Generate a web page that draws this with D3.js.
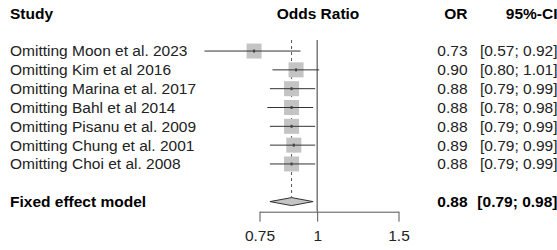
<!DOCTYPE html>
<html>
<head>
<meta charset="utf-8">
<script src="https://cdn.jsdelivr.net/npm/d3@7"></script>
<style>
  html, body { margin: 0; padding: 0; background: #fff; }
  svg { display: block; }
  text { font-family: "Liberation Sans", Arial, Helvetica, sans-serif; }
</style>
</head>
<body>
<script>
// ---- data ----
const studies = [
  "Omitting Moon et al. 2023",
  "Omitting Kim et al 2016",
  "Omitting Marina et al. 2017",
  "Omitting Bahl et al 2014",
  "Omitting Pisanu et al. 2009",
  "Omitting Chung et al. 2001",
  "Omitting Choi et al. 2008"
];
const orValues = [0.73, 0.90, 0.88, 0.88, 0.88, 0.89, 0.88];
const ciLower  = [0.57, 0.80, 0.79, 0.78, 0.79, 0.79, 0.79];
const ciUpper  = [0.92, 1.01, 0.99, 0.98, 0.99, 0.99, 0.99];
const pooledLabel = "Fixed effect model";
const pooled = { or: 0.88, lo: 0.79, hi: 0.98 };
const tickValues = [0.75, 1, 1.5];
const tickLabels = ["0.75", "1", "1.5"];
const headers = { study: "Study", plot: "Odds Ratio", or: "OR", ci: "95%-CI" };

// ---- layout ----
const W = 557, H = 250;
const fs = 15.5;
const svg = d3.select("body").append("svg").attr("width", W).attr("height", H);

const x = d3.scaleLog().domain([0.75, 1.5]).range([259.5, 398.5]);
const rowY = d3.scaleLinear().domain([0, 10]).range([13.4, 201.6]);

const fmt = d3.format(".2f");
const fmtCI = (l, h) => `[${fmt(l)}; ${fmt(h)}]`;

const studyRows = studies.map((s, i) => ({
  label: s, or: orValues[i], lo: ciLower[i], hi: ciUpper[i], row: i + 2
}));

const txt = (sel) => sel.attr("font-size", fs).attr("dy", "0.35em");

// headers
const hdrY = rowY(0);
svg.append("text").call(txt).attr("x", 10).attr("y", hdrY).attr("font-weight", "bold").attr("fill", "#000").text(headers.study);
svg.append("text").call(txt).attr("x", 318).attr("y", hdrY).attr("text-anchor", "middle").attr("font-weight", "bold").attr("fill", "#000").text(headers.plot);
svg.append("text").call(txt).attr("x", 467.5).attr("y", hdrY).attr("text-anchor", "end").attr("font-weight", "bold").attr("fill", "#000").text(headers.or);
svg.append("text").call(txt).attr("x", 557.5).attr("y", hdrY).attr("text-anchor", "end").attr("font-weight", "bold").attr("fill", "#000").text(headers.ci);

// reference line at 1
const topY = rowY(2) - 11;
const axisY = 211.7;
svg.append("line")
  .attr("x1", x(1)).attr("x2", x(1)).attr("y1", topY).attr("y2", axisY)
  .attr("stroke", "#666").attr("stroke-width", 1.3);

// dashed pooled line
svg.append("line")
  .attr("x1", x(pooled.or)).attr("x2", x(pooled.or))
  .attr("y1", topY).attr("y2", rowY(10) - 4)
  .attr("stroke", "#555").attr("stroke-width", 1)
  .attr("stroke-dasharray", "3,3");

// study rows
const g = svg.append("g");
const rows = g.selectAll("g.row").data(studyRows).join("g").attr("class", "row");

rows.append("text").call(txt)
  .attr("x", 10).attr("y", d => rowY(d.row)).attr("fill", "#222")
  .text(d => d.label);

rows.append("text").call(txt)
  .attr("x", 467.5).attr("y", d => rowY(d.row)).attr("text-anchor", "end").attr("fill", "#222")
  .text(d => fmt(d.or));

rows.append("text").call(txt)
  .attr("x", 557.5).attr("y", d => rowY(d.row)).attr("text-anchor", "end").attr("fill", "#222")
  .text(d => fmtCI(d.lo, d.hi));

const sq = 15;
rows.append("rect")
  .attr("x", d => x(d.or) - sq / 2).attr("y", d => rowY(d.row) - sq / 2)
  .attr("width", sq).attr("height", sq)
  .attr("fill", "#c4c4c4");

rows.append("line")
  .attr("x1", d => x(d.lo)).attr("x2", d => x(d.hi))
  .attr("y1", d => rowY(d.row)).attr("y2", d => rowY(d.row))
  .attr("stroke", "#333").attr("stroke-width", 1);

rows.append("rect")
  .attr("x", d => x(d.or) - 1).attr("y", d => rowY(d.row) - 1.5)
  .attr("width", 2).attr("height", 3)
  .attr("fill", "#444");

// pooled row
const py = rowY(10);
svg.append("text").call(txt).attr("x", 10).attr("y", py).attr("font-weight", "bold").attr("fill", "#000").text(pooledLabel);
svg.append("text").call(txt).attr("x", 467.5).attr("y", py).attr("text-anchor", "end").attr("font-weight", "bold").attr("fill", "#000").text(fmt(pooled.or));
svg.append("text").call(txt).attr("x", 557.5).attr("y", py).attr("text-anchor", "end").attr("font-weight", "bold").attr("fill", "#000").text(fmtCI(pooled.lo, pooled.hi));

const dh = 4;
svg.append("polygon")
  .attr("points", [
    [x(pooled.lo), py], [x(pooled.or), py - dh], [x(pooled.hi), py], [x(pooled.or), py + dh]
  ].map(p => p.join(",")).join(" "))
  .attr("fill", "#c4c4c4").attr("stroke", "#333").attr("stroke-width", 1);

// axis
const axis = d3.axisBottom(x).tickValues(tickValues)
  .tickFormat((d, i) => tickLabels[i]).tickSize(10).tickSizeOuter(0).tickPadding(8);
const ax = svg.append("g").attr("transform", `translate(0,${axisY})`).call(axis);
ax.select(".domain").attr("stroke", "#555");
ax.selectAll(".tick line").attr("stroke", "#555");
ax.selectAll(".tick text").attr("font-size", fs).attr("fill", "#222")
  .attr("font-family", '"Liberation Sans", Arial, sans-serif');
</script>
</body>
</html>
